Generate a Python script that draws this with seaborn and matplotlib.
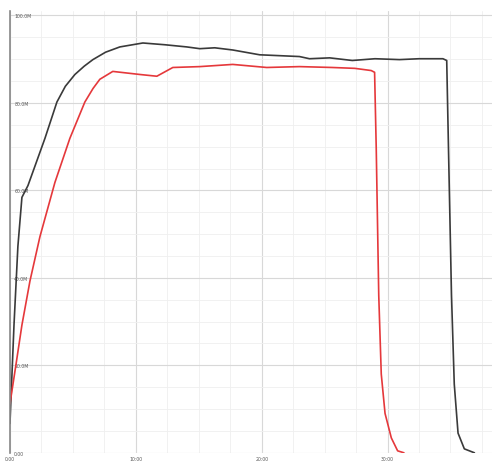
import matplotlib
matplotlib.use('Agg')
import matplotlib.pyplot as plt
import pandas as pd
import seaborn as sb
from matplotlib.ticker import AutoMinorLocator

# black trace (time, value)
black_t = [0, 0.32, 0.63, 0.95, 1.43, 2.78, 3.73, 4.4, 5.16, 5.9, 6.59, 7.6, 8.73, 10.56,
           12.3, 14.05, 15.08, 16.27, 17.7, 19.84, 21.43, 23.0, 23.8, 25.4, 27.2, 29.0,
           30.95, 32.5, 34.4, 34.7, 34.84, 35.08, 35.3, 35.6, 36.1, 36.9]
black_v = [6.7, 29.2, 47.2, 58.4, 61.1, 71.9, 80.2, 83.8, 86.5, 88.4, 89.9, 91.6, 92.8, 93.7,
           93.3, 92.8, 92.4, 92.6, 92.1, 91.0, 90.8, 90.6, 90.1, 90.3, 89.7, 90.1,
           89.9, 90.1, 90.1, 89.7, 69.7, 36.0, 15.7, 4.5, 0.9, 0.0]

# red trace
red_t = [0, 0.48, 0.95, 1.59, 2.38, 3.57, 4.76, 5.95, 6.6, 7.14, 8.17, 10.32, 11.67, 12.94,
         15.08, 17.7, 20.4, 23.0, 25.6, 27.4, 28.7, 28.97, 29.1, 29.3, 29.5, 29.8,
         30.3, 30.8, 31.3]
red_v = [11.2, 20.2, 29.2, 39.3, 49.4, 61.8, 71.9, 80.2, 83.3, 85.4, 87.2, 86.5, 86.1, 88.1,
         88.3, 88.8, 88.1, 88.3, 88.1, 87.9, 87.4, 87.0, 69.7, 36.0, 18.0, 9.0,
         3.4, 0.45, 0.0]

x_ticks = [0, 10, 20, 30]
x_labels = ['0:00', '10:00', '20:00', '30:00']
y_ticks = [0, 20, 40, 60, 80, 100]
y_labels = ['0.00', '20.0M', '40.0M', '60.0M', '80.0M', '100.0M']

df = pd.concat([
    pd.DataFrame({'t': black_t, 'v': black_v, 'series': 'a'}),
    pd.DataFrame({'t': red_t, 'v': red_v, 'series': 'b'}),
])

sb.set_style('white')
fig = plt.figure(figsize=(4.98, 4.64), dpi=100)
ax = fig.add_axes([0.02, 0.022, 0.968, 0.952])

sb.lineplot(x='t', y='v', hue='series', data=df, palette={'a': '#3a3a3a', 'b': '#e5383b'},
            linewidth=1.2, legend=False, sort=False, estimator=None, ax=ax)

ax.set_xlim(0, 38.3)
ax.set_ylim(0, 101)
ax.set_xticks(x_ticks)
ax.set_xticklabels(x_labels)
ax.set_yticks(y_ticks)
ax.set_yticklabels(y_labels)
ax.xaxis.set_minor_locator(AutoMinorLocator(4))
ax.yaxis.set_minor_locator(AutoMinorLocator(4))
ax.grid(which='major', color='#d8d8d8', linewidth=0.8)
ax.grid(which='minor', color='#efefef', linewidth=0.6)
ax.set_axisbelow(True)

ax.tick_params(axis='x', labelsize=3.3, length=2, pad=0.5, colors='#555555')
ax.tick_params(axis='y', labelsize=3.3, length=0, pad=-3, colors='#555555')
for lab in ax.get_yticklabels():
    lab.set_horizontalalignment('left')
ax.tick_params(which='minor', length=0)

for s in ['top', 'right', 'bottom']:
    ax.spines[s].set_visible(False)
ax.spines['left'].set_color('#888888')
ax.spines['left'].set_linewidth(1.2)
ax.set_xlabel('')
ax.set_ylabel('')

fig.savefig('out.png', dpi=100)
